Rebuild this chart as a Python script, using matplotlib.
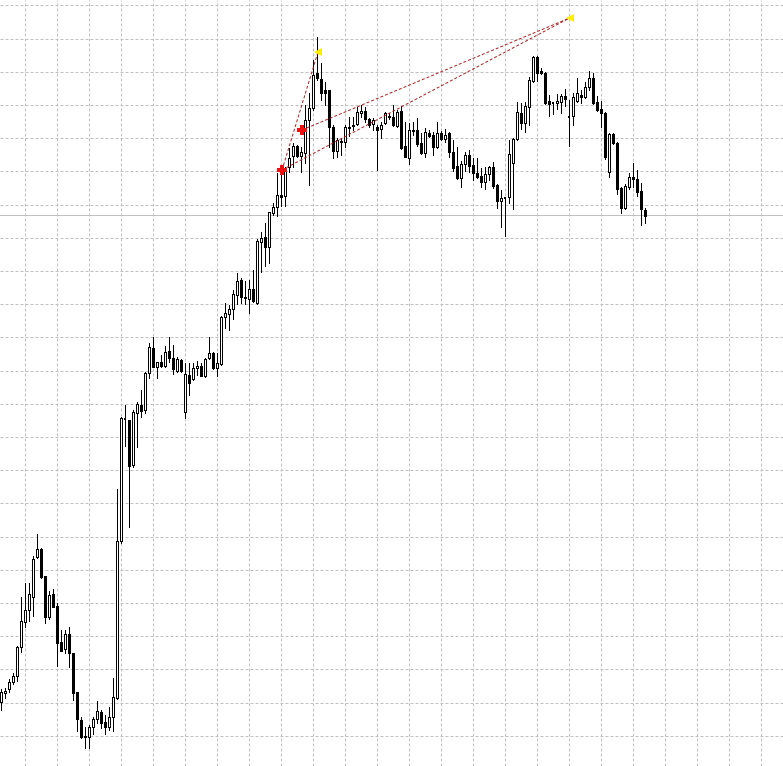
import numpy as np
import matplotlib
matplotlib.use("Agg")
import matplotlib.pyplot as plt

# ---- candle data (price in points) ----
opens = [64, 73, 77, 84, 90, 119, 144, 156, 169, 209, 217, 190, 149, 172, 160, 124, 117, 132, 113, 74,
         46, 30, 29, 39, 47, 54, 44, 39, 49, 68, 225, 347, 346, 301, 353, 361, 356, 393, 418, 399,
         404, 400, 415, 408, 395, 406, 354, 391, 387, 398, 400, 390, 408, 413, 398, 402, 449, 452, 457, 471,
         486, 469, 467, 477, 463, 524, 529, 519, 553, 559, 571, 570, 599, 610, 620, 610, 613, 646, 658, 693,
         687, 676, 676, 639, 615, 624, 624, 639, 641, 642, 653, 655, 647, 642, 639, 637, 643, 649, 649, 640,
         655, 620, 608, 635, 636, 623, 613, 633, 631, 619, 633, 627, 633, 614, 600, 588, 602, 611, 601, 593,
         590, 584, 592, 599, 581, 565, 568, 569, 603, 627, 653, 643, 659, 685, 709, 695, 693, 665, 663, 663,
         664, 670, 649, 650, 665, 671, 669, 679, 688, 664, 657, 653, 594, 632, 623, 578, 558, 579, 589, 587,
         575, 556]
highs = [77, 78, 87, 93, 120, 169, 183, 183, 210, 232, 218, 190, 175, 177, 163, 136, 136, 139, 113, 74,
         49, 39, 41, 49, 65, 56, 51, 59, 88, 277, 349, 361, 346, 356, 364, 376, 394, 423, 429, 404,
         411, 420, 429, 421, 409, 407, 403, 403, 403, 405, 403, 408, 429, 414, 413, 450, 463, 461, 476, 493,
         488, 485, 486, 496, 527, 534, 543, 554, 563, 593, 594, 599, 618, 623, 621, 619, 661, 673, 706, 729,
         703, 684, 676, 641, 628, 628, 641, 649, 649, 659, 661, 659, 648, 648, 641, 644, 654, 653, 661, 656,
         660, 644, 643, 644, 648, 633, 638, 636, 634, 644, 635, 637, 634, 626, 619, 605, 614, 616, 608, 608,
         598, 599, 600, 604, 582, 576, 569, 626, 628, 664, 663, 664, 689, 710, 710, 698, 694, 671, 664, 672,
         672, 677, 666, 673, 688, 676, 684, 695, 693, 670, 665, 654, 633, 633, 624, 579, 582, 593, 603, 596,
         583, 558]
lows = [56, 68, 74, 82, 85, 114, 139, 145, 150, 208, 188, 143, 147, 159, 100, 115, 113, 99, 66, 35,
        28, 18, 18, 32, 43, 38, 32, 36, 35, 67, 223, 320, 239, 299, 319, 349, 353, 388, 399, 388,
        399, 399, 404, 392, 394, 394, 348, 371, 386, 391, 390, 389, 407, 397, 390, 401, 438, 436, 447, 462,
        463, 462, 453, 464, 462, 494, 500, 503, 551, 550, 560, 560, 594, 599, 609, 594, 603, 581, 656, 686,
        666, 661, 619, 608, 609, 611, 619, 630, 636, 641, 649, 644, 639, 636, 596, 628, 642, 647, 640, 639,
        617, 609, 602, 631, 620, 612, 609, 629, 611, 618, 626, 624, 609, 595, 587, 579, 595, 594, 586, 588,
        579, 577, 586, 578, 558, 539, 530, 563, 557, 626, 637, 634, 641, 684, 685, 692, 662, 650, 652, 657,
        653, 660, 620, 641, 664, 663, 668, 676, 662, 655, 639, 607, 589, 622, 572, 553, 557, 577, 579, 570,
        541, 543]
closes = [74, 75, 84, 90, 119, 145, 156, 172, 207, 217, 189, 149, 171, 159, 123, 115, 132, 113, 73, 47,
          29, 29, 39, 47, 55, 43, 39, 49, 69, 225, 348, 347, 300, 354, 362, 355, 393, 419, 399, 404,
          400, 414, 408, 397, 407, 395, 392, 383, 398, 400, 390, 407, 413, 398, 403, 449, 453, 457, 472, 485,
          469, 468, 477, 465, 525, 528, 519, 554, 559, 571, 569, 596, 608, 620, 610, 614, 646, 658, 691, 688,
          673, 673, 639, 615, 626, 625, 639, 638, 640, 654, 655, 647, 641, 646, 636, 641, 653, 650, 641, 654,
          618, 609, 636, 636, 622, 613, 634, 630, 619, 633, 627, 631, 614, 598, 588, 602, 611, 600, 593, 589,
          584, 592, 599, 580, 565, 568, 568, 612, 627, 654, 643, 660, 686, 709, 693, 693, 663, 662, 663, 665,
          670, 667, 649, 669, 673, 669, 679, 688, 663, 656, 653, 609, 632, 623, 577, 558, 580, 589, 587, 574,
          557, 550]

# ---- pattern annotations (candle index, price) ----
star_idx = [70.3, 75.3]
star_price = [596, 636]
top_idx = [79.3, 142.2]
top_price = [714, 748]
pattern_links = [(0, 0), (0, 1), (1, 1)]  # (star, top) pairs joined by dashed lines
bid_price = 551

n = len(opens)
x = np.arange(n)
o = np.array(opens, float); h = np.array(highs, float)
l = np.array(lows, float); c = np.array(closes, float)

W, H = 783, 766
fig = plt.figure(figsize=(W / 100, H / 100), dpi=100)
ax = fig.add_axes([0, 0, 1, 1])
fig.patch.set_facecolor("white")
ax.set_facecolor("white")

px = 0.72  # one pixel in points

# grid
ax.set_xticks(np.arange(6, 196, 8))
ax.set_yticks(np.arange(760.7, -1, -33.2))
ax.grid(True, color="#c0c0c0", linestyle=(0, (3, 2)), linewidth=px)
ax.tick_params(left=False, bottom=False, labelleft=False, labelbottom=False)
for s in ax.spines.values():
    s.set_visible(False)
ax.set_axisbelow(True)

# bid line
ax.axhline(bid_price, color="#c0c0c0", linewidth=px, zorder=1)

# wicks
ax.vlines(x, l, h, color="black", linewidth=px, zorder=2, antialiased=False)

# bodies
bull = c > o
bear = c < o
doji = c == o
bw = 0.6
ax.bar(x[bull], (c - o)[bull], bottom=o[bull], width=bw, color="white",
       edgecolor="black", linewidth=px, zorder=3, antialiased=False)
ax.bar(x[bear], (c - o)[bear], bottom=o[bear], width=bw, color="black",
       edgecolor="black", linewidth=px, zorder=3, antialiased=False)
ax.hlines(o[doji], x[doji] - bw / 2, x[doji] + bw / 2, color="black", linewidth=px * 1.5,
          zorder=3, antialiased=False)

# pattern lines
for si, ti in pattern_links:
    ax.plot([star_idx[si], top_idx[ti]], [star_price[si], top_price[ti]],
            color="#b22222", linestyle=(0, (3, 2)), linewidth=px, zorder=4)

ax.plot(star_idx, star_price, linestyle="none", marker="P", markersize=7,
        color="#ee1111", markeredgewidth=0, zorder=5)
ax.plot(top_idx, top_price, linestyle="none", marker="<", markersize=6,
        color="#ffee00", markeredgewidth=0, zorder=5)

# limits last so ticks can't expand them
ax.set_xlim(-0.2, -0.2 + W / 4.0)
ax.set_ylim(0, H)

fig.savefig("out.png", dpi=100, facecolor="white")
